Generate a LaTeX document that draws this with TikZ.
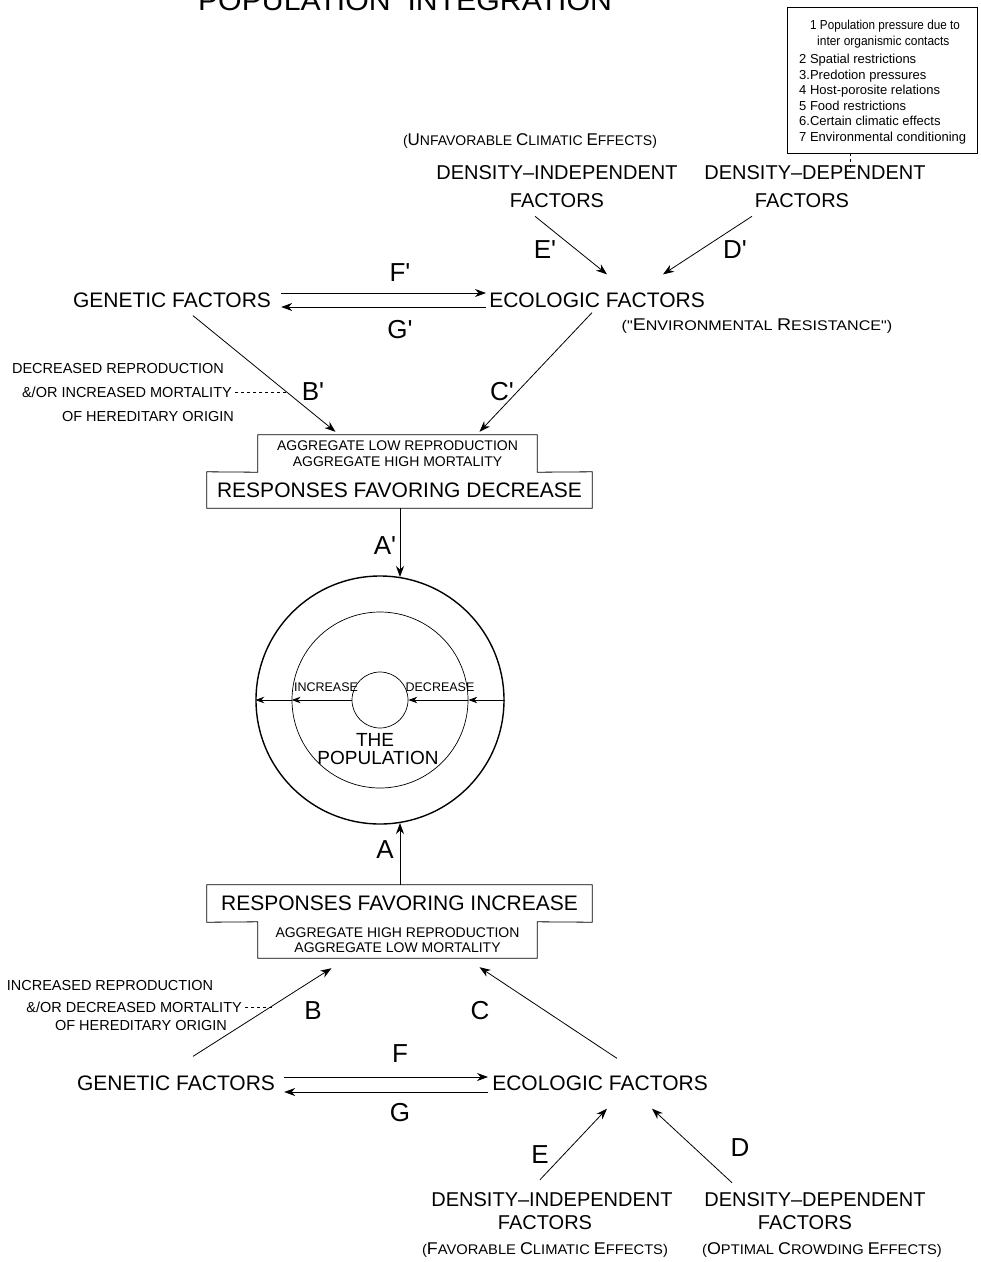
\documentclass[tikz,border=0pt]{standalone}
\usepackage{fontspec}
\usepackage{graphicx}
\usetikzlibrary{arrows.meta,calc}
\newfontfamily\lab{Liberation Sans}
% small-caps look: first letter of a word set larger
\def\scwaux#1#2\relax{{\fontsize{17}{20}\selectfont #1}#2}
\newcommand\scw[1]{\scwaux#1\relax}

\begin{document}
\begin{tikzpicture}[x=1pt,y=-1pt,
  every node/.style={inner sep=0pt,font=\lab},
  main/.style={font=\lab\fontsize{21}{24}\selectfont},
  dens/.style={font=\lab\fontsize{20}{24}\selectfont},
  small/.style={font=\lab\fontsize{14}{15.5}\selectfont,align=center},
  note/.style={font=\lab\fontsize{14.5}{17}\selectfont},
  paren/.style={font=\lab\fontsize{14}{17}\selectfont},
  letter/.style={font=\lab\fontsize{26}{30}\selectfont},
  legend/.style={font=\lab\fontsize{13}{15}\selectfont,anchor=base west},
  link/.style={line width=0.8pt,-{Stealth[length=11pt,width=8pt,inset=3.5pt]}},
  flow/.style={line width=0.7pt,-{Stealth[length=9pt,width=6.5pt,inset=3pt]}},
  hint/.style={line width=0.5pt,dash pattern=on 3pt off 3pt},
  boxline/.style={line width=0.8pt}]
\useasboundingbox (0,0) rectangle (981,1262);

% title (runs off the top edge)
\node[font=\lab\fontsize{28}{30}\selectfont,anchor=base] (title) at (405,10)
  {\scalebox{1.08}[1]{POPULATION\ \ INTEGRATION}};

% legend of density-dependent factors
\node[draw,boxline,minimum width=190pt,minimum height=146pt] (legbox) at (882,80) {};
\node[legend] (lg1) at (810,29) {\scalebox{0.9}[1]{1 Population pressure due to}};
\node[legend] (lg2) at (817,45) {\scalebox{0.92}[1]{inter organismic contacts}};
\node[legend] (lg3) at (799,63) {2 Spatial restrictions};
\node[legend] (lg4) at (799,79) {3.Predotion pressures};
\node[legend] (lg5) at (799,94) {4 Host-porosite relations};
\node[legend] (lg6) at (799,110) {5 Food restrictions};
\node[legend] (lg7) at (799,125) {6.Certain climatic effects};
\node[legend] (lg8) at (799,141) {7 Environmental conditioning};
\coordinate (tick) at (850,168);
\draw[hint] (legbox.south -| tick) -- (tick);

% ---------- upper half: factors leading to decrease ----------
\node[paren] (unfav) at (530,141) {(\scw{UNFAVORABLE} \scw{CLIMATIC} \scw{EFFECTS})};
\node[dens] (diU) at (557,173) {DENSITY–INDEPENDENT};
\node[dens] (diUf) at (557,201) {FACTORS};
\node[dens] (ddU) at (815,173) {DENSITY–DEPENDENT};
\node[dens] (ddUf) at (802,201) {FACTORS};

\node[main] (ecoU) at (597,300) {ECOLOGIC FACTORS};
\node[main] (genU) at (172,300) {GENETIC FACTORS};
\node[paren] (envres) at (757,326)
  {\scalebox{1.15}[1]{("\scw{ENVIRONMENTAL} \scw{RESISTANCE}")}};

\draw[link] ($(diUf.south)+(-22,8)$) -- ($(ecoU.north)+(10,-18)$);
\draw[link] ($(ddUf.south)+(-50,8)$) -- ($(ecoU.north)+(66,-18)$);
\node[letter] (lEp) at (545,250) {E'};
\node[letter] (lDp) at (735,250) {D'};

\draw[link] ($(genU.east)+(10,-7)$) -- ($(ecoU.west)+(-3,-7)$);
\draw[link] ($(ecoU.west)+(-3,7)$) -- ($(genU.east)+(10,7)$);
\node[letter] (lFp) at (400,273) {F'};
\node[letter] (lGp) at (400,330) {G'};

% stepped response box (decrease)
\node[small,minimum width=279pt,minimum height=37pt] (decTop) at (397.5,453.5)
  {AGGREGATE LOW REPRODUCTION\\AGGREGATE HIGH MORTALITY};
\node[main,minimum width=385pt,minimum height=36pt] (decBot) at (399.5,490)
  {RESPONSES FAVORING DECREASE};
\draw[boxline] (decTop.south west) -- (decTop.north west) -- (decTop.north east)
  -- (decTop.south east) -- (decBot.north east) -- (decBot.south east)
  -- (decBot.south west) -- (decBot.north west) -- cycle;

\draw[link] ($(genU.south)+(21,8)$) -- ($(decTop.north)+(-62,-3)$);
\draw[link] ($(ecoU.south)+(-5,5)$) -- ($(decTop.north)+(82,-3)$);
\node[letter] (lBp) at (313,392) {B'};
\node[letter] (lCp) at (502,392) {C'};

\node[note] (dr1) at (118,369) {DECREASED REPRODUCTION};
\node[note,anchor=east] (dr2) at (232,392) {\&/OR INCREASED MORTALITY};
\node[note] (dr3) at (148,416) {OF HEREDITARY ORIGIN};
\coordinate (bpmeet) at (286,392);
\draw[hint] ($(dr2.east)+(3,0)$) -- (bpmeet);

% ---------- the population ----------
\node[circle,draw,line width=1.4pt,minimum size=248pt] (outer) at (380,700) {};
\node[circle,draw,line width=0.7pt,minimum size=176pt] (mid) at (380,700) {};
\node[circle,draw,line width=0.7pt,minimum size=56pt] (core) at (380,700) {};
\draw[flow] (outer.east) -- (mid.east);
\draw[flow] (mid.east) -- (core.east);
\draw[flow] (core.west) -- (mid.west);
\draw[flow] (mid.west) -- (outer.west);
\node[font=\lab\fontsize{12.5}{14}\selectfont] (incw) at (326,687) {INCREASE};
\node[font=\lab\fontsize{12.5}{14}\selectfont] (decw) at (440,687) {DECREASE};
\node[font=\lab\fontsize{19}{21}\selectfont] (the) at (375,740) {THE};
\node[font=\lab\fontsize{19}{21}\selectfont] (popw) at (378,758) {POPULATION};

\draw[link] ($(decBot.south)+(0.5,0)$) -- ($(outer.center)+(20,-123)$);
\node[letter] (lAp) at (385,546) {A'};

% stepped response box (increase)
\node[main,minimum width=385pt,minimum height=37pt] (incTop) at (399.5,903.5)
  {RESPONSES FAVORING INCREASE};
\node[small,minimum width=279pt,minimum height=36pt] (incBot) at (397.5,940)
  {AGGREGATE HIGH REPRODUCTION\\AGGREGATE LOW MORTALITY};
\draw[boxline] (incTop.north west) -- (incTop.north east) -- (incTop.south east)
  -- (incBot.north east) -- (incBot.south east) -- (incBot.south west)
  -- (incBot.north west) -- (incTop.south west) -- cycle;

\draw[link] ($(incTop.north)+(0.5,0)$) -- ($(outer.center)+(20,123)$);
\node[letter] (lA) at (385,850) {A};

% ---------- lower half: factors leading to increase ----------
\node[main] (genL) at (176,1083) {GENETIC FACTORS};
\node[main] (ecoL) at (600,1083) {ECOLOGIC FACTORS};

\draw[link] ($(genL.north)+(17,-19)$) -- ($(incBot.south)+(-66,10)$);
\draw[link] ($(ecoL.north)+(17,-17)$) -- ($(incBot.south)+(82,9)$);
\node[letter] (lB) at (313,1011) {B};
\node[letter] (lC) at (480,1011) {C};

\node[note] (ir1) at (110,985) {INCREASED REPRODUCTION};
\node[note,anchor=east] (ir2) at (242,1007) {\&/OR DECREASED MORTALITY};
\node[note] (ir3) at (141,1025) {OF HEREDITARY ORIGIN};
\coordinate (bmeet) at (273,1007);
\draw[hint] ($(ir2.east)+(3,0)$) -- (bmeet);

\draw[link] ($(genL.east)+(9,-6)$) -- ($(ecoL.west)+(-4,-6)$);
\draw[link] ($(ecoL.west)+(-4,9)$) -- ($(genL.east)+(9,9)$);
\node[letter] (lF) at (400,1054) {F};
\node[letter] (lG) at (400,1113) {G};

\node[dens] (diL) at (552,1200) {DENSITY–INDEPENDENT};
\node[dens] (diLf) at (545,1223) {FACTORS};
\node[paren] (fav) at (545,1250)
  {\scalebox{1.05}[1]{(\scw{FAVORABLE} \scw{CLIMATIC} \scw{EFFECTS})}};
\node[dens] (ddL) at (815,1200) {DENSITY–DEPENDENT};
\node[dens] (ddLf) at (805,1223) {FACTORS};
\node[paren] (optc) at (822,1250)
  {\scalebox{1.05}[1]{(\scw{OPTIMAL} \scw{CROWDING} \scw{EFFECTS})}};

\draw[link] ($(diL.north)+(-12,-13)$) -- ($(ecoL.south)+(7,18)$);
\draw[link] ($(ddL.north)+(-83,-10)$) -- ($(ecoL.south)+(52,18)$);
\node[letter] (lE) at (540,1155) {E};
\node[letter] (lD) at (740,1148) {D};
\end{tikzpicture}
\end{document}
